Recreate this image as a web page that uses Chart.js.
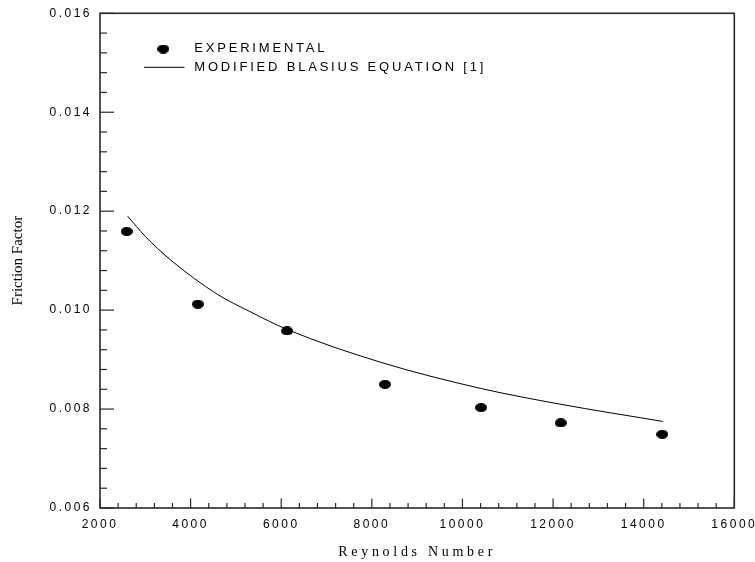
<!DOCTYPE html>
<html>
<head>
<meta charset="utf-8">
<script src="https://cdn.jsdelivr.net/npm/chart.js@4.4.1/dist/chart.umd.min.js"></script>
<style>
html,body{margin:0;padding:0;background:#fff;}
canvas{display:block;}
</style>
</head>
<body>
<canvas id="c" width="755" height="562"></canvas>
<script>
// ---- data ----
const xTicks = [2000, 4000, 6000, 8000, 10000, 12000, 14000, 16000];
const xTickLabels = ['2000', '4000', '6000', '8000', '10000', '12000', '14000', '16000'];
const yTicks = [0.006, 0.008, 0.010, 0.012, 0.014, 0.016];
const yTickLabels = ['0.006', '0.008', '0.010', '0.012', '0.014', '0.016'];

const expRe = [2590, 4160, 6130, 8290, 10410, 12170, 14410];
const expF  = [0.01159, 0.01012, 0.00958, 0.00850, 0.00803, 0.00772, 0.00749];

const blasiusRe = [2610, 3000, 3550, 4590, 5310, 6130, 8180, 10390, 12150, 14420];
const blasiusF  = [0.01190, 0.01149, 0.01102, 0.01032, 0.00997, 0.00961, 0.00895, 0.00842, 0.00810, 0.00775];

const seriesNames = ['EXPERIMENTAL', 'MODIFIED BLASIUS EQUATION [1]'];
const xTitle = 'Reynolds Number';
const yTitle = 'Friction Factor';

// ---- styles ----
const AXIS_COLOR = '#2a2a2a';
const spacingRules = [
  { size: '12px', fam: 'Sans',  sp: '2.5px' },
  { size: '13px', fam: 'Sans',  sp: '2.8px' },
  { size: '14px', fam: 'Serif', sp: '3.7px' },
  { size: '15px', fam: 'Serif', sp: '0px' }
];

function ellipseMarker(w, h) {
  const c = document.createElement('canvas');
  c.width = w; c.height = h;
  const g = c.getContext('2d');
  g.fillStyle = '#000';
  g.beginPath();
  g.ellipse(w / 2, h / 2, w / 2, h / 2, 0, 0, Math.PI * 2);
  g.fill();
  return c;
}
const marker = ellipseMarker(12, 9);

const spacingPlugin = {
  id: 'spacing',
  beforeInit(chart) {
    const ctx = chart.ctx;
    const orig = ctx.fillText;
    ctx.fillText = function (text, x, y, maxWidth) {
      const f = ctx.font;
      let sp = '0px';
      for (const r of spacingRules) {
        if (f.includes(r.size) && f.includes(r.fam)) sp = r.sp;
      }
      ctx.letterSpacing = sp;
      if (maxWidth === undefined) return orig.call(ctx, text, x, y);
      return orig.call(ctx, text, x, y, maxWidth);
    };
  }
};

const framePlugin = {
  id: 'frame',
  afterDraw(chart) {
    const { ctx, chartArea: a, scales } = chart;
    const xs = scales.x, ys = scales.y;
    ctx.save();
    ctx.strokeStyle = AXIS_COLOR;
    ctx.lineWidth = 1.2;
    // x ticks (inward)
    for (let i = 0; i < xTicks.length; i++) {
      const px = xs.getPixelForValue(xTicks[i]);
      ctx.beginPath(); ctx.moveTo(px, a.bottom); ctx.lineTo(px, a.bottom - 9.5); ctx.stroke();
      if (i < xTicks.length - 1) {
        for (let k = 1; k < 5; k++) {
          const v = xTicks[i] + (xTicks[i + 1] - xTicks[i]) * k / 5;
          const p = xs.getPixelForValue(v);
          ctx.beginPath(); ctx.moveTo(p, a.bottom); ctx.lineTo(p, a.bottom - 5); ctx.stroke();
        }
      }
    }
    // y ticks (inward)
    for (let i = 0; i < yTicks.length; i++) {
      const py = ys.getPixelForValue(yTicks[i]);
      ctx.beginPath(); ctx.moveTo(a.left, py); ctx.lineTo(a.left + 14, py); ctx.stroke();
      if (i < yTicks.length - 1) {
        for (let k = 1; k < 5; k++) {
          const v = yTicks[i] + (yTicks[i + 1] - yTicks[i]) * k / 5;
          const p = ys.getPixelForValue(v);
          ctx.beginPath(); ctx.moveTo(a.left, p); ctx.lineTo(a.left + 7, p); ctx.stroke();
        }
      }
    }
    // box
    ctx.lineWidth = 1.6;
    ctx.strokeRect(a.left, a.top, a.right - a.left, a.bottom - a.top);

    // legend
    const ds = chart.data.datasets;
    ctx.font = '13px "Liberation Sans"';
    ctx.fillStyle = '#000';
    ctx.textAlign = 'left';
    ctx.textBaseline = 'middle';
    const lx = a.left + 63.3, tx = a.left + 94.3;
    ctx.drawImage(marker, lx - 6, a.top + 35.7 - 4.5);
    ctx.fillText(ds[0].label, tx, a.top + 34.9);
    ctx.strokeStyle = '#000';
    ctx.lineWidth = 1;
    ctx.beginPath(); ctx.moveTo(a.left + 44, a.top + 54); ctx.lineTo(a.left + 84.5, a.top + 54); ctx.stroke();
    ctx.fillText(ds[1].label, tx, a.top + 54.5);
    ctx.restore();
  }
};

new Chart(document.getElementById('c'), {
  type: 'scatter',
  data: {
    datasets: [
      {
        label: seriesNames[0],
        data: expRe.map((x, i) => ({ x: x, y: expF[i] })),
        pointStyle: marker,
        pointRadius: 6,
        backgroundColor: '#000',
        borderColor: '#000',
        showLine: false
      },
      {
        label: seriesNames[1],
        data: blasiusRe.map((x, i) => ({ x: x, y: blasiusF[i] })),
        showLine: true,
        pointRadius: 0,
        borderColor: '#000',
        borderWidth: 1,
        cubicInterpolationMode: 'monotone',
        fill: false
      }
    ]
  },
  options: {
    responsive: false,
    animation: false,
    events: [],
    devicePixelRatio: 1,
    layout: { padding: { top: 13.3, right: 20.7, bottom: 0, left: 0 } },
    plugins: { legend: { display: false }, tooltip: { enabled: false } },
    scales: {
      x: {
        type: 'linear',
        min: 2000, max: 16000,
        afterBuildTicks: s => { s.ticks = xTicks.map(v => ({ value: v })); },
        afterFit: s => { s.height = 54; s.paddingLeft = 0; s.paddingRight = 0; },
        ticks: {
          callback: v => xTickLabels[xTicks.indexOf(v)],
          font: { family: 'Liberation Sans', size: 12 },
          color: '#000',
          padding: 9,
          maxRotation: 0,
          autoSkip: false
        },
        grid: { display: false, drawTicks: false },
        border: { display: false },
        title: {
          display: true,
          text: xTitle,
          font: { family: 'Liberation Serif', size: 14 },
          color: '#000',
          padding: { top: 0, bottom: 1.0 }
        }
      },
      y: {
        type: 'linear',
        min: 0.006, max: 0.016,
        afterBuildTicks: s => { s.ticks = yTicks.map(v => ({ value: v })); },
        afterFit: s => { s.width = 100; s.paddingTop = 0; s.paddingBottom = 0; },
        ticks: {
          callback: v => yTickLabels[yTicks.findIndex(t => Math.abs(t - v) < 1e-9)],
          font: { family: 'Liberation Sans', size: 12 },
          color: '#000',
          padding: 8,
          autoSkip: false
        },
        grid: { display: false, drawTicks: false },
        border: { display: false },
        title: {
          display: true,
          text: yTitle,
          font: { family: 'Liberation Serif', size: 15 },
          color: '#000',
          padding: { top: 9.1, bottom: 0 }
        }
      }
    }
  },
  plugins: [spacingPlugin, framePlugin]
});
</script>
</body>
</html>
